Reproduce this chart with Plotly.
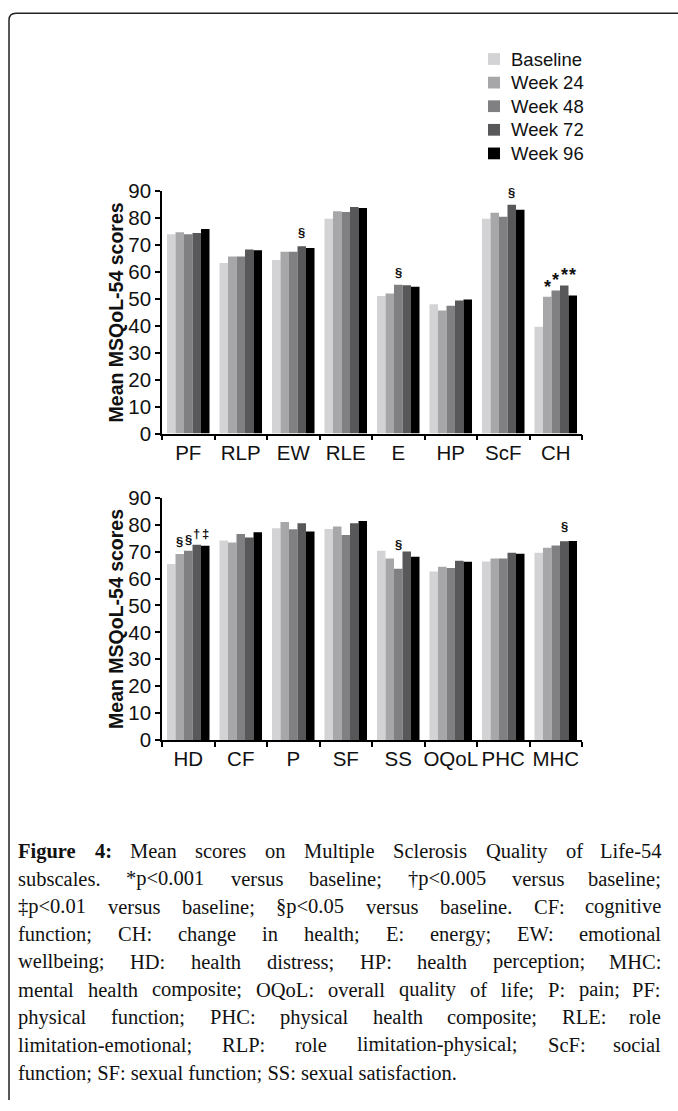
import plotly.graph_objects as go

W, H = 678, 1111

# ---- data -------------------------------------------------------------
series_names = ["Baseline", "Week 24", "Week 48", "Week 72", "Week 96"]
series_colors = ["#d3d3d5", "#a7a7aa", "#808083", "#58585b", "#000000"]

top_categories = ["PF", "RLP", "EW", "RLE", "E", "HP", "ScF", "CH"]
top_baseline = [74.0, 63.3, 64.5, 79.8, 51.1, 48.0, 79.8, 39.7]
top_week24 = [74.8, 65.8, 67.5, 82.6, 52.0, 45.7, 82.0, 50.8]
top_week48 = [74.0, 65.8, 67.5, 82.3, 55.3, 47.5, 80.5, 53.1]
top_week72 = [74.5, 68.4, 69.6, 84.1, 55.1, 49.4, 85.0, 55.0]
top_week96 = [76.0, 68.1, 68.9, 83.8, 54.5, 49.8, 83.1, 51.3]

bottom_categories = ["HD", "CF", "P", "SF", "SS", "OQoL", "PHC", "MHC"]
bottom_baseline = [65.4, 74.1, 78.7, 78.4, 70.3, 62.6, 66.3, 69.6]
bottom_week24 = [69.1, 73.4, 81.0, 79.3, 67.4, 64.4, 67.4, 71.4]
bottom_week48 = [70.3, 76.5, 78.3, 76.2, 63.6, 63.9, 67.4, 72.3]
bottom_week72 = [72.5, 75.2, 80.5, 80.5, 70.0, 66.6, 69.6, 73.8]
bottom_week96 = [72.2, 77.2, 77.5, 81.4, 68.1, 66.2, 69.2, 73.9]

top_series = [top_baseline, top_week24, top_week48, top_week72, top_week96]
bottom_series = [bottom_baseline, bottom_week24, bottom_week48,
                 bottom_week72, bottom_week96]

# significance marks: (category, series index, symbol, height in score units)
top_marks = [("EW", 3, "§", 74.6), ("E", 2, "§", 59.9), ("ScF", 3, "§", 89.6),
             ("CH", 1, "*", 56.2), ("CH", 2, "*", 58.9),
             ("CH", 3, "*", 60.7), ("CH", 4, "*", 60.7)]
bottom_marks = [("HD", 1, "§", 73.8), ("HD", 2, "§", 74.6),
                ("HD", 3, "†", 76.8), ("HD", 4, "‡", 76.8),
                ("SS", 2, "§", 72.5), ("MHC", 3, "§", 79.3)]

caption_lines = [
    [("Figure", True), ("4:", True), ("Mean", False), ("scores", False),
     ("on", False), ("Multiple", False), ("Sclerosis", False),
     ("Quality", False), ("of", False), ("Life-54", False)],
    "subscales. *p<0.001 versus baseline; †p<0.005 versus baseline;",
    "‡p<0.01 versus baseline; §p<0.05 versus baseline. CF: cognitive",
    "function; CH: change in health; E: energy; EW: emotional",
    "wellbeing; HD: health distress; HP: health perception; MHC:",
    "mental health composite; OQoL: overall quality of life; P: pain; PF:",
    "physical function; PHC: physical health composite; RLE: role",
    "limitation-emotional; RLP: role limitation-physical; ScF: social",
    "function; SF: sexual function; SS: sexual satisfaction.",
]

# ---- helpers ----------------------------------------------------------
def px_x(px):
    return px / W


def px_y(py):
    return 1 - py / H


SANS = "Liberation Sans, Arial, sans-serif"
SERIF = "Liberation Serif, Times New Roman, serif"

# Times-compatible advance widths (1/1000 em) for the caption layout
_REG = {' ': 250, '*': 500, ',': 250, '-': 333, '.': 250, ':': 278, ';': 278,
        '<': 564, '†': 500, '‡': 500, '§': 500,
        'A': 722, 'B': 667, 'C': 667, 'D': 722, 'E': 611, 'F': 556, 'G': 722,
        'H': 722, 'I': 333, 'J': 389, 'K': 722, 'L': 611, 'M': 889, 'N': 722,
        'O': 722, 'P': 556, 'Q': 722, 'R': 667, 'S': 556, 'T': 611, 'U': 722,
        'V': 722, 'W': 944, 'X': 722, 'Y': 722, 'Z': 611,
        'a': 444, 'b': 500, 'c': 444, 'd': 500, 'e': 444, 'f': 333, 'g': 500,
        'h': 500, 'i': 278, 'j': 278, 'k': 500, 'l': 278, 'm': 778, 'n': 500,
        'o': 500, 'p': 500, 'q': 500, 'r': 333, 's': 389, 't': 278, 'u': 500,
        'v': 500, 'w': 722, 'x': 500, 'y': 500, 'z': 444}
_BOLD = {'F': 611, 'i': 278, 'g': 500, 'u': 556, 'r': 444, 'e': 444,
         '4': 500, ':': 333}


def word_width(word, size, bold=False):
    table = _BOLD if bold else _REG
    return sum(table.get(ch, 500) for ch in word) * size / 1000.0


def esc(s):
    return s.replace("&", "&amp;").replace("<", "&lt;").replace(">", "&gt;")


# ---- figure -----------------------------------------------------------
fig = go.Figure()

for name, color, vals in zip(series_names, series_colors, top_series):
    fig.add_trace(go.Bar(x=top_categories, y=vals, name=name,
                         marker=dict(color=color, line=dict(width=0)),
                         legendgroup=name, showlegend=False,
                         xaxis="x", yaxis="y"))
for name, color, vals in zip(series_names, series_colors, bottom_series):
    fig.add_trace(go.Bar(x=bottom_categories, y=vals, name=name,
                         marker=dict(color=color, line=dict(width=0)),
                         legendgroup=name, showlegend=False,
                         xaxis="x2", yaxis="y2"))

x_dom = [px_x(162), px_x(582)]
top_dom = [px_y(430.5), px_y(183)]
bot_dom = [px_y(743.5), px_y(496)]

TICK_FONT = dict(family=SANS, size=20.5, color="#111")
xaxis_style = dict(type="category", showline=True, linecolor="#000",
                   linewidth=1.5, ticks="outside", ticklen=5, tickwidth=1.5,
                   tickcolor="#000", tickson="boundaries", showgrid=False,
                   zeroline=False, range=[-0.5, 7.5], tickangle=0,
                   tickfont=TICK_FONT)
yaxis_style = dict(range=[0, 90], dtick=10, showline=True, linecolor="#000",
                   linewidth=1.5, ticks="outside", ticklen=5, tickwidth=1.5,
                   tickcolor="#000", showgrid=False, zeroline=False,
                   tickfont=TICK_FONT)

fig.update_layout(
    width=W, height=H, autosize=False,
    margin=dict(l=0, r=0, t=0, b=0),
    paper_bgcolor="white", plot_bgcolor="white",
    barmode="group", bargap=0.19, bargroupgap=0,
    xaxis=dict(domain=x_dom, anchor="y", **xaxis_style),
    yaxis=dict(domain=top_dom, anchor="x", **yaxis_style),
    xaxis2=dict(domain=x_dom, anchor="y2", **xaxis_style),
    yaxis2=dict(domain=bot_dom, anchor="x2", **yaxis_style),
    showlegend=False,
)

annotations = []
shapes = []

# legend: square swatch + series name per row
LEG_SWATCH_X, LEG_TEXT_X = 494, 510
LEG_TOP, LEG_STEP, SW = 48, 24.1, 12
for i, (name, color) in enumerate(zip(series_names, series_colors)):
    cy = LEG_TOP + i * LEG_STEP
    shapes.append(dict(type="rect", xref="paper", yref="paper",
                       x0=px_x(LEG_SWATCH_X - SW / 2),
                       x1=px_x(LEG_SWATCH_X + SW / 2),
                       y0=px_y(cy + SW / 2), y1=px_y(cy - SW / 2),
                       fillcolor=color, line=dict(width=0)))
    annotations.append(dict(text=name, xref="paper", yref="paper",
                            x=px_x(LEG_TEXT_X), y=px_y(cy), xanchor="left",
                            yanchor="middle", showarrow=False, borderpad=0,
                            font=dict(family=SANS, size=18.5, color="#111")))

# y-axis titles
for dom in (top_dom, bot_dom):
    annotations.append(dict(
        text="<b>Mean MSQoL-54 scores</b>", textangle=-90,
        xref="paper", yref="paper", x=px_x(116),
        y=(dom[0] + dom[1]) / 2, xanchor="center", yanchor="middle",
        showarrow=False, font=dict(family=SANS, size=19.5, color="#111")))

# significance symbols over individual bars
n_series = len(series_names)
group_w = 1 - 0.19
bar_w = group_w / n_series


def add_marks(marks, cats, xref, yref):
    for cat, si, sym, yv in marks:
        xv = cats.index(cat) - group_w / 2 + bar_w * (si + 0.5)
        star = sym == "*"
        annotations.append(dict(
            text="<b>%s</b>" % sym, xref=xref, yref=yref, x=xv, y=yv,
            xanchor="center", yanchor="middle", showarrow=False,
            yshift=-5 if star else 0,
            font=dict(family=SANS, size=18 if star else 13, color="#111")))


add_marks(top_marks, top_categories, "x", "y")
add_marks(bottom_marks, bottom_categories, "x2", "y2")

# caption: justified word by word, last line set naturally
CAP_SIZE = 20.5
CAP_LEFT, CAP_RIGHT = 17, 662
CAP_TOP, CAP_STEP = 857, 28.25

for li, line in enumerate(caption_lines):
    yc = px_y(CAP_TOP + li * CAP_STEP)
    if li == len(caption_lines) - 1:
        annotations.append(dict(
            text=esc(line), xref="paper", yref="paper", x=px_x(CAP_LEFT),
            y=yc, xanchor="left", yanchor="middle", showarrow=False,
            borderpad=0, font=dict(family=SERIF, size=CAP_SIZE, color="#111")))
        continue
    if isinstance(line, str):
        words = [(w, False) for w in line.split(" ")]
    else:
        words = line
    widths = [word_width(w, CAP_SIZE, b) for w, b in words]
    gap = (CAP_RIGHT - CAP_LEFT - sum(widths)) / (len(words) - 1)
    xpos = CAP_LEFT
    for wi, ((w, b), ww) in enumerate(zip(words, widths)):
        txt = esc(w)
        if b:
            txt = "<b>%s</b>" % txt
        if wi == len(words) - 1:
            ax, anch = CAP_RIGHT, "right"
        else:
            ax, anch = xpos, "left"
        annotations.append(dict(
            text=txt, xref="paper", yref="paper", x=px_x(ax), y=yc,
            xanchor=anch, yanchor="middle", showarrow=False, borderpad=0,
            font=dict(family=SERIF, size=CAP_SIZE, color="#111")))
        xpos += ww + gap

# frame: left and top edges with a rounded corner
FRAME_X, FRAME_Y, r = 9, 1.2, 7
frame_path = ("M {x0},{y0} L {x0},{y1} Q {x0},{yc} {x1},{yc} L {x2},{yc}"
              .format(x0=px_x(FRAME_X), y0=px_y(H), y1=px_y(FRAME_Y + r),
                      yc=px_y(FRAME_Y), x1=px_x(FRAME_X + r), x2=px_x(W)))
shapes.append(dict(type="path", path=frame_path, xref="paper", yref="paper",
                   line=dict(color="#222", width=1.5)))

fig.update_layout(annotations=annotations, shapes=shapes)

fig.write_html("out.html", config={"displayModeBar": False},
               post_script="document.body.style.margin='0';")
